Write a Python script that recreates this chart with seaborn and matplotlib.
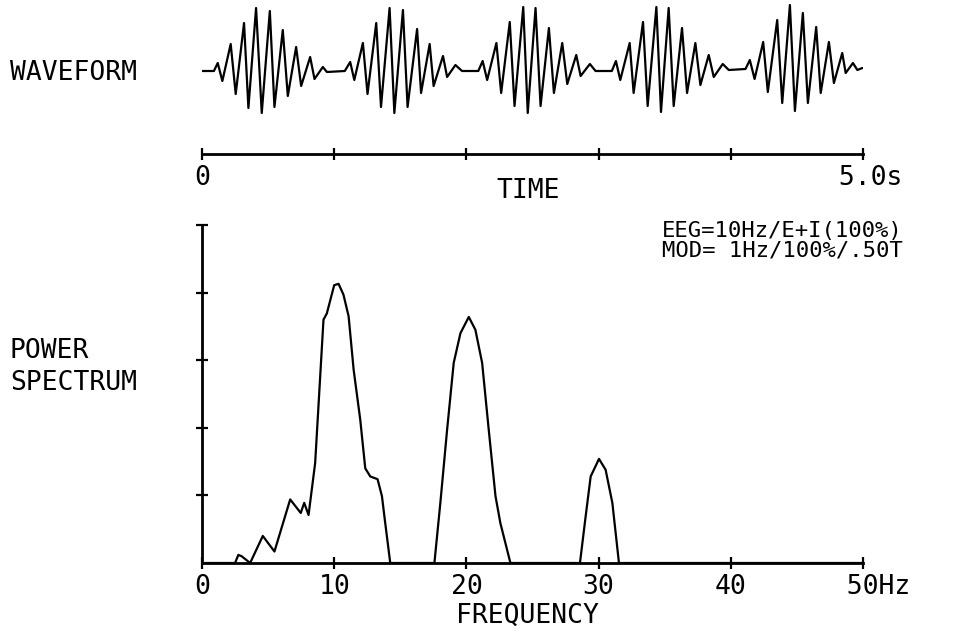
import seaborn as sns
import matplotlib.pyplot as plt

# waveform: time (s) and amplitude (peaks / troughs)
time_s = [0.00, 0.09, 0.119, 0.154, 0.217, 0.255, 0.318, 0.351, 0.409, 0.452,
          0.513, 0.548, 0.611, 0.649, 0.712, 0.750, 0.818, 0.851, 0.914, 0.945,
          1.08, 1.121, 1.152, 1.217, 1.252, 1.318, 1.354, 1.419, 1.455, 1.520,
          1.555, 1.627, 1.657, 1.722, 1.752, 1.823, 1.854, 1.917, 1.967,
          2.09, 2.123, 2.157, 2.227, 2.263, 2.328, 2.364, 2.430, 2.464, 2.523,
          2.561, 2.624, 2.662, 2.725, 2.763, 2.831, 2.864, 2.934, 2.977,
          3.10, 3.131, 3.164, 3.235, 3.265, 3.336, 3.371, 3.437, 3.472, 3.530,
          3.568, 3.631, 3.669, 3.732, 3.770, 3.833, 3.871, 3.939, 3.985,
          4.111, 4.144, 4.180, 4.245, 4.280, 4.351, 4.389, 4.447, 4.485, 4.545,
          4.583, 4.646, 4.680, 4.742, 4.780, 4.843, 4.869, 4.924, 4.957, 4.995]
wave_amp = [0, 0, 8, -10, 27, -23, 48, -37, 63, -42,
            60, -36, 41, -25, 24, -15, 14, -8, 4, -1,
            0, 9, -9, 28, -23, 48, -36, 63, -42, 61,
            -36, 42, -22, 27, -15, 15, -6, 6, 0,
            0, 10, -9, 28, -22, 49, -35, 64, -42, 63,
            -35, 43, -22, 28, -13, 16, -5, 7, 0,
            0, 10, -9, 28, -22, 49, -35, 64, -41, 63,
            -35, 43, -22, 28, -14, 16, -6, 7, 1,
            2, 11, -8, 29, -21, 51, -32, 66, -40, 58,
            -32, 44, -22, 29, -12, 18, -2, 8, 1, 3]

# power spectrum
freq_hz = [0, 2.5, 2.75, 3.0, 3.64, 4.6, 5.48, 6.67, 7.47, 7.73, 8.06, 8.56,
           9.19, 9.44, 10.0, 10.33, 10.7, 11.09, 11.47, 11.97, 12.35, 12.73,
           13.28, 13.61, 13.86, 14.24, 17.58, 18.03, 18.54, 19.04, 19.55, 20.18,
           20.68, 21.19, 21.69, 22.2, 22.57, 23.33, 28.59, 29.02, 29.4, 30.03,
           30.53, 31.04, 31.54, 50]
power = [0, 0, 0.12, 0.1, 0, 0.40, 0.17, 0.94, 0.74, 0.89, 0.71, 1.48,
         3.6, 3.69, 4.11, 4.13, 3.97, 3.65, 2.86, 2.12, 1.40, 1.28,
         1.24, 0.99, 0.59, 0, 0, 0.89, 1.97, 2.96, 3.40, 3.64,
         3.45, 2.96, 1.97, 0.99, 0.59, 0, 0, 0.69, 1.28, 1.54,
         1.38, 0.89, 0, 0]

time_ticks = [0, 1, 2, 3, 4, 5]
time_labels = ['0', '', '', '', '', ' 5.0s']
freq_ticks = [0, 10, 20, 30, 40, 50]
freq_labels = ['0', '10', '20', '30', '40', '  50Hz']
power_ticks = [1, 2, 3, 4, 5]
eeg_note = ['EEG=10Hz/E+I(100%)', 'MOD= 1Hz/100%/.50T']

sns.set_theme(style='white')
plt.rcParams['font.family'] = ['DejaVu Sans Mono']

W, H = 964, 636
fig = plt.figure(figsize=(W / 100, H / 100), dpi=100)


def box(left, top, right, bottom):
    # pixel box -> figure fraction
    return [left / W, 1 - bottom / H, (right - left) / W, (bottom - top) / H]


# waveform with its time axis
ax_w = fig.add_axes(box(202, 0, 863, 154))
ax_w.patch.set_alpha(0)
sns.lineplot(x=time_s, y=wave_amp, ax=ax_w, color='black', lw=1.6, estimator=None)
ax_w.set_xlim(0, 5)
ax_w.set_ylim(-83, 71)
for s in ['top', 'right', 'left']:
    ax_w.spines[s].set_visible(False)
ax_w.spines['bottom'].set_color('black')
ax_w.spines['bottom'].set_linewidth(2)
ax_w.set_xticks(time_ticks, time_labels)
ax_w.set_yticks([])
ax_w.tick_params(axis='x', bottom=True, direction='inout', length=9, width=1.6,
                 color='black', pad=3.5, labelsize=19, labelcolor='black')

# power spectrum
ax_s = fig.add_axes(box(202, 225, 863, 563))
ax_s.patch.set_alpha(0)
sns.lineplot(x=freq_hz, y=power, ax=ax_s, color='black', lw=1.6, estimator=None)
ax_s.set_xlim(0, 50)
ax_s.set_ylim(0, 5)
for s in ['top', 'right']:
    ax_s.spines[s].set_visible(False)
for s in ['bottom', 'left']:
    ax_s.spines[s].set_color('black')
    ax_s.spines[s].set_linewidth(2)
ax_s.set_xticks(freq_ticks, freq_labels)
ax_s.set_yticks(power_ticks, [])
ax_s.tick_params(axis='both', bottom=True, left=True, direction='inout', length=9,
                 width=1.6, color='black', pad=3.5, labelsize=19, labelcolor='black')
ax_s.set_xlabel('')
ax_s.set_ylabel('')

txt = dict(color='black', fontsize=19)
fig.text(10 / W, 1 - 73 / H, 'WAVEFORM', ha='left', va='center', **txt)
fig.text(10 / W, 1 - 367 / H, 'POWER\nSPECTRUM', ha='left', va='center',
         linespacing=1.3, **txt)
fig.text(528 / W, 1 - 191 / H, 'TIME', ha='center', va='center', **txt)
fig.text(527 / W, 1 - 616 / H, 'FREQUENCY', ha='center', va='center', **txt)
fig.text(662 / W, 1 - 231 / H, eeg_note[0], ha='left', va='center', color='black', fontsize=16)
fig.text(662 / W, 1 - 251 / H, eeg_note[1], ha='left', va='center', color='black', fontsize=16)

fig.savefig('out.png', dpi=100)
